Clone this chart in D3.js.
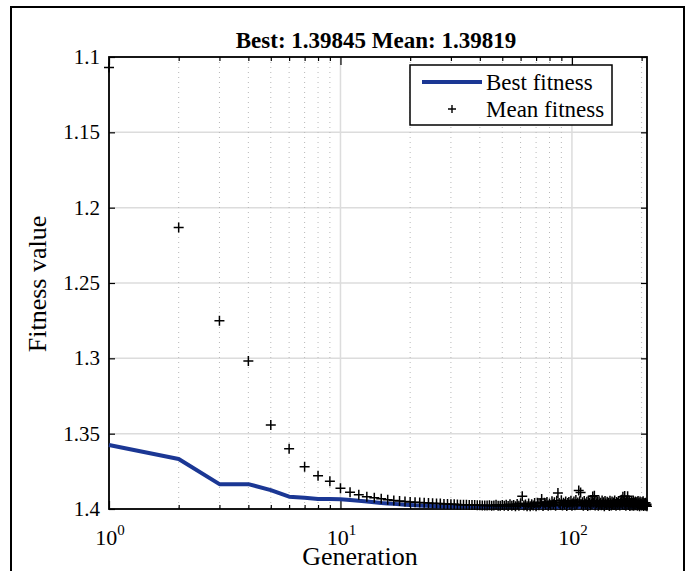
<!DOCTYPE html>
<html>
<head>
<meta charset="utf-8">
<script src="https://cdn.jsdelivr.net/npm/d3@7"></script>
<style>
  body { margin: 0; background: #fff; }
  text { font-family: "Liberation Serif", "Times New Roman", serif; fill: #000; }
</style>
</head>
<body>
<script>
// fitness per generation (gen 1..211)
var bestFitness = [
  1.3575, 1.3668, 1.3835, 1.3835, 1.3875, 1.3918, 1.3925, 1.3934, 1.3934, 1.3935,
  1.3940, 1.3946, 1.3950, 1.3955, 1.3960, 1.3963, 1.3966, 1.3969, 1.3971, 1.3973,
  1.3975, 1.3976, 1.3978, 1.3979, 1.3980, 1.3981, 1.3982, 1.3983, 1.3983, 1.3984,
  1.3984, 1.3984, 1.3984, 1.3984, 1.3984, 1.3984, 1.3984, 1.3984, 1.3984, 1.3984,
  1.3984, 1.3984, 1.3984, 1.3984, 1.3984, 1.3984, 1.3984, 1.3984, 1.3984, 1.3984,
  1.3984, 1.3984, 1.3984, 1.3984, 1.3984, 1.3984, 1.3984, 1.3984, 1.3984, 1.39845,
  1.39845, 1.39845, 1.39845, 1.39845, 1.39845, 1.39845, 1.39845, 1.39845, 1.39845, 1.39845,
  1.39845, 1.39845, 1.39845, 1.39845, 1.39845, 1.39845, 1.39845, 1.39845, 1.39845, 1.39845,
  1.39845, 1.39845, 1.39845, 1.39845, 1.39845, 1.39845, 1.39845, 1.39845, 1.39845, 1.39845,
  1.39845, 1.39845, 1.39845, 1.39845, 1.39845, 1.39845, 1.39845, 1.39845, 1.39845, 1.39845,
  1.39845, 1.39845, 1.39845, 1.39845, 1.39845, 1.39845, 1.39845, 1.39845, 1.39845, 1.39845,
  1.39845, 1.39845, 1.39845, 1.39845, 1.39845, 1.39845, 1.39845, 1.39845, 1.39845, 1.39845,
  1.39845, 1.39845, 1.39845, 1.39845, 1.39845, 1.39845, 1.39845, 1.39845, 1.39845, 1.39845,
  1.39845, 1.39845, 1.39845, 1.39845, 1.39845, 1.39845, 1.39845, 1.39845, 1.39845, 1.39845,
  1.39845, 1.39845, 1.39845, 1.39845, 1.39845, 1.39845, 1.39845, 1.39845, 1.39845, 1.39845,
  1.39845, 1.39845, 1.39845, 1.39845, 1.39845, 1.39845, 1.39845, 1.39845, 1.39845, 1.39845,
  1.39845, 1.39845, 1.39845, 1.39845, 1.39845, 1.39845, 1.39845, 1.39845, 1.39845, 1.39845,
  1.39845, 1.39845, 1.39845, 1.39845, 1.39845, 1.39845, 1.39845, 1.39845, 1.39845, 1.39845,
  1.39845, 1.39845, 1.39845, 1.39845, 1.39845, 1.39845, 1.39845, 1.39845, 1.39845, 1.39845,
  1.39845, 1.39845, 1.39845, 1.39845, 1.39845, 1.39845, 1.39845, 1.39845, 1.39845, 1.39845,
  1.39845, 1.39845, 1.39845, 1.39845, 1.39845, 1.39845, 1.39845, 1.39845, 1.39845, 1.39845,
  1.39845
];

var meanFitness = [
  1.1070, 1.2132, 1.2750, 1.3018, 1.3443, 1.3600, 1.3720, 1.3780, 1.3815, 1.3862,
  1.3889, 1.3906, 1.3918, 1.3925, 1.3932, 1.3938, 1.3943, 1.3947, 1.3950, 1.3953,
  1.3955, 1.3957, 1.3959, 1.3960, 1.3962, 1.3963, 1.3964, 1.3966, 1.3967, 1.3968,
  1.3969, 1.3970, 1.3971, 1.3971, 1.3972, 1.3973, 1.3973, 1.3974, 1.3975, 1.3975,
  1.3976, 1.3976, 1.3977, 1.3975, 1.3978, 1.3977, 1.3972, 1.3978, 1.3979, 1.3974,
  1.3979, 1.3971, 1.3980, 1.3968, 1.3978, 1.3974, 1.3981, 1.3966, 1.3979, 1.3962,
  1.3915, 1.3977, 1.3970, 1.3981, 1.3964, 1.3982, 1.3969, 1.3976, 1.3960, 1.3981,
  1.3958, 1.3975, 1.3962, 1.3934, 1.3980, 1.3959, 1.3972, 1.3954, 1.3978, 1.3963,
  1.3975, 1.3948, 1.3969, 1.3955, 1.3979, 1.3946, 1.3893, 1.3960, 1.3974, 1.3942,
  1.3977, 1.3958, 1.3968, 1.3950, 1.3980, 1.3961, 1.3953, 1.3972, 1.3945, 1.3978,
  1.3962, 1.3951, 1.3975, 1.3940, 1.3966, 1.3957, 1.3878, 1.3949, 1.3890, 1.3968,
  1.3955, 1.3978, 1.3947, 1.3964, 1.3972, 1.3952, 1.3980, 1.3944, 1.3961, 1.3975,
  1.3950, 1.3967, 1.3917, 1.3958, 1.3912, 1.3976, 1.3946, 1.3963, 1.3954, 1.3979,
  1.3949, 1.3966, 1.3958, 1.3975, 1.3943, 1.3970, 1.3956, 1.3981, 1.3947, 1.3964,
  1.3973, 1.3952, 1.3968, 1.3959, 1.3980, 1.3945, 1.3962, 1.3977, 1.3951, 1.3969,
  1.3957, 1.3974, 1.3943, 1.3966, 1.3979, 1.3953, 1.3960, 1.3972, 1.3948, 1.3967,
  1.3976, 1.3955, 1.3962, 1.3938, 1.3970, 1.3918, 1.3950, 1.3974, 1.3914, 1.3961,
  1.3978, 1.3946, 1.3967, 1.3915, 1.3956, 1.3973, 1.3949, 1.3980, 1.3958, 1.3965,
  1.3952, 1.3976, 1.3961, 1.3944, 1.3978, 1.3957, 1.3969, 1.3950, 1.3975, 1.3962,
  1.3954, 1.3979, 1.3947, 1.3968, 1.3958, 1.3981, 1.3951, 1.3970, 1.3963, 1.3977,
  1.3956, 1.3972, 1.3949, 1.3980, 1.3961, 1.3966, 1.3975, 1.3958, 1.3979, 1.3968,
  1.39819
];

var yTicks = [1.1, 1.15, 1.2, 1.25, 1.3, 1.35, 1.4];
var yTickLabels = ["1.1", "1.15", "1.2", "1.25", "1.3", "1.35", "1.4"];
var xMajor = [1, 10, 100];
var xMajorExp = ["0", "1", "2"];
var xMinor = [2, 3, 4, 5, 6, 7, 8, 9, 20, 30, 40, 50, 60, 70, 80, 90, 200];
var legendNames = ["Best fitness", "Mean fitness"];
var titleText = "Best: 1.39845 Mean: 1.39819";

var W = 689, H = 571;
var pL = 109, pR = 647, pT = 57, pB = 509;

var svg = d3.select("body").append("svg")
    .attr("width", W).attr("height", H);

// outer figure frame (bottom runs off the picture)
svg.append("rect")
    .attr("x", 11).attr("y", 7)
    .attr("width", 673).attr("height", 620)
    .attr("fill", "#fff").attr("stroke", "#000").attr("stroke-width", 2);

var x = d3.scaleLog().domain([1, bestFitness.length]).range([pL, pR]);
var y = d3.scaleLinear().domain([1.1, 1.4]).range([pT, pB]);

var gens = d3.range(1, bestFitness.length + 1);

// grid
var grid = svg.append("g");
grid.selectAll(".ygrid").data(yTicks).enter().append("line")
    .attr("x1", pL).attr("x2", pR)
    .attr("y1", function(d) { return y(d); }).attr("y2", function(d) { return y(d); })
    .attr("stroke", "#dcdcdc").attr("stroke-width", 1.5);
grid.selectAll(".xminor").data(xMinor).enter().append("line")
    .attr("x1", function(d) { return x(d); }).attr("x2", function(d) { return x(d); })
    .attr("y1", pT).attr("y2", pB)
    .attr("stroke", "#b8b8b8").attr("stroke-width", 1).attr("stroke-dasharray", "1,4");
grid.selectAll(".xmajor").data(xMajor).enter().append("line")
    .attr("x1", function(d) { return x(d); }).attr("x2", function(d) { return x(d); })
    .attr("y1", pT).attr("y2", pB)
    .attr("stroke", "#dcdcdc").attr("stroke-width", 1.5);

// axes with inward ticks
var yAxisL = d3.axisLeft(y).tickValues(yTicks).tickSize(-6).tickFormat("");
var yAxisR = d3.axisRight(y).tickValues(yTicks).tickSize(-6).tickFormat("");
var xAxisB = d3.axisBottom(x).tickValues(xMajor).tickSize(-8).tickFormat("");
var xAxisT = d3.axisTop(x).tickValues(xMajor).tickSize(-8).tickFormat("");
var xMinB = d3.axisBottom(x).tickValues(xMinor).tickSize(-4).tickFormat("");
var xMinT = d3.axisTop(x).tickValues(xMinor).tickSize(-4).tickFormat("");

function styleAxis(g) {
  g.select(".domain").remove();
  g.selectAll(".tick line").attr("stroke", "#000").attr("stroke-width", 1.2);
}
svg.append("g").attr("transform", "translate(" + pL + ",0)").call(yAxisL).call(styleAxis);
svg.append("g").attr("transform", "translate(" + pR + ",0)").call(yAxisR).call(styleAxis);
svg.append("g").attr("transform", "translate(0," + pB + ")").call(xAxisB).call(styleAxis);
svg.append("g").attr("transform", "translate(0," + pT + ")").call(xAxisT).call(styleAxis);
svg.append("g").attr("transform", "translate(0," + pB + ")").call(xMinB).call(styleAxis);
svg.append("g").attr("transform", "translate(0," + pT + ")").call(xMinT).call(styleAxis);

// box
svg.append("rect")
    .attr("x", pL).attr("y", pT)
    .attr("width", pR - pL).attr("height", pB - pT)
    .attr("fill", "none").attr("stroke", "#000").attr("stroke-width", 1.8);

// tick labels
svg.selectAll(".ylab").data(yTicks).enter().append("text")
    .attr("x", pL - 9)
    .attr("y", function(d) { return y(d) + 7; })
    .attr("text-anchor", "end")
    .attr("font-size", 21)
    .text(function(d, i) { return yTickLabels[i]; });

var xl = svg.selectAll(".xlab").data(xMajor).enter().append("text")
    .attr("x", function(d) { return x(d) + 1; })
    .attr("y", 545)
    .attr("text-anchor", "middle")
    .attr("font-size", 22);
xl.append("tspan").text("10");
xl.append("tspan").attr("dy", -10).attr("font-size", 15)
    .text(function(d, i) { return xMajorExp[i]; });

// best fitness line
var line = d3.line()
    .x(function(d) { return x(d); })
    .y(function(d) { return y(bestFitness[d - 1]); });
svg.append("path")
    .attr("d", line(gens))
    .attr("fill", "none")
    .attr("stroke", "#1b3794")
    .attr("stroke-width", 4)
    .attr("stroke-linejoin", "round");

// mean fitness markers
svg.selectAll(".mean").data(gens).enter().append("path")
    .attr("d", "M-5,0H5M0,-5V5")
    .attr("transform", function(d) { return "translate(" + x(d) + "," + y(meanFitness[d - 1]) + ")"; })
    .attr("stroke", "#000").attr("stroke-width", 1.5).attr("fill", "none");

// legend
svg.append("rect")
    .attr("x", 410).attr("y", 65).attr("width", 202).attr("height", 60)
    .attr("fill", "#fff").attr("stroke", "#000").attr("stroke-width", 1.5);
svg.append("line")
    .attr("x1", 422).attr("x2", 482).attr("y1", 82).attr("y2", 82)
    .attr("stroke", "#1b3794").attr("stroke-width", 4);
svg.append("path")
    .attr("d", "M-4,0H4M0,-4V4")
    .attr("transform", "translate(452,109)")
    .attr("stroke", "#000").attr("stroke-width", 1.4);
svg.selectAll(".leg").data(legendNames).enter().append("text")
    .attr("x", 486)
    .attr("y", function(d, i) { return 90 + i * 27; })
    .attr("font-size", 23)
    .text(function(d) { return d; });

// title and axis labels
svg.append("text")
    .attr("x", 376).attr("y", 48)
    .attr("text-anchor", "middle")
    .attr("font-size", 23).attr("font-weight", "bold")
    .text(titleText);

svg.append("text")
    .attr("x", 360).attr("y", 565)
    .attr("text-anchor", "middle")
    .attr("font-size", 26)
    .text("Generation");

svg.append("text")
    .attr("transform", "translate(46,284) rotate(-90)")
    .attr("text-anchor", "middle")
    .attr("font-size", 26)
    .text("Fitness value");
</script>
</body>
</html>
